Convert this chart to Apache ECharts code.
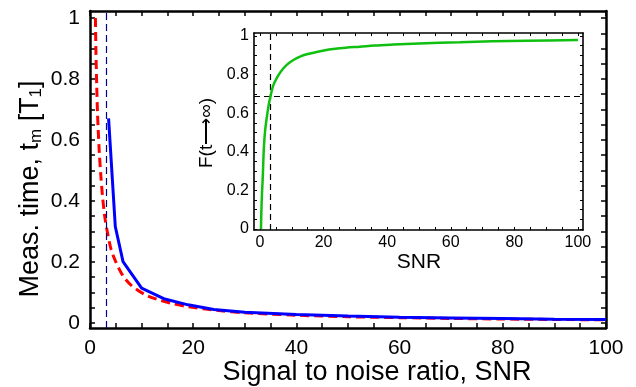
<!DOCTYPE html>
<html>
<head>
<meta charset="utf-8">
<script src="https://cdn.jsdelivr.net/npm/echarts@6/dist/echarts.min.js"></script>
<style>
html,body{margin:0;padding:0;background:#fff;}
#c{width:636px;height:387px;}
</style>
</head>
<body>
<div id="c"></div>
<script>
// ---- data ----
const snrRed = [1.05, 1.15, 1.3, 1.45, 1.6, 1.8, 2.07, 2.4, 2.85, 3.4, 4.1, 5, 6, 6.7, 8, 10.6, 13, 15.8, 19, 25, 30, 40, 50, 60, 70, 80, 90, 100];
const tRed   = [1.0, 0.89, 0.78, 0.69, 0.63, 0.56, 0.49, 0.42, 0.35, 0.295, 0.24, 0.2, 0.165, 0.147, 0.123, 0.093, 0.077, 0.064, 0.053, 0.04, 0.033, 0.025, 0.02, 0.017, 0.0143, 0.0125, 0.011, 0.01];

const snrBlue = [3.6, 4.9, 6.4, 10, 14.5, 19, 24, 30, 40, 50, 60, 70, 80, 90, 100];
const tBlue   = [0.671, 0.316, 0.201, 0.114, 0.078, 0.059, 0.044, 0.035, 0.027, 0.022, 0.018, 0.016, 0.014, 0.012, 0.011];

const snrGreen = [0.3, 0.4, 0.6, 0.85, 1.05, 1.26, 1.6, 2.1, 2.7, 3.4, 4.2, 5.2, 6.5, 8.4, 10.5, 12.6, 15, 17.8, 20.5, 23, 27, 31.4, 36, 41.9, 50, 62.9, 73, 83.9, 100];
const fGreen   = [0.0, 0.08, 0.18, 0.264, 0.36, 0.437, 0.51, 0.575, 0.64, 0.696, 0.745, 0.78, 0.815, 0.85, 0.875, 0.893, 0.906, 0.917, 0.926, 0.932, 0.939, 0.944, 0.95, 0.955, 0.961, 0.967, 0.972, 0.975, 0.979];

const snrThreshold = 3.2;
const fThreshold = 0.695;

const mainXLabels = [0, 20, 40, 60, 80, 100];
const mainYLabels = [0, 0.2, 0.4, 0.6, 0.8, 1];
const insetXLabels = [0, 20, 40, 60, 80, 100];
const insetYLabels = [0, 0.2, 0.4, 0.6, 0.8, 1];

// tick positions (every 5 SNR / every 0.05 in y)
const xTicks = []; for (let i = 0; i <= 20; i++) xTicks.push(i * 5);
const yTicks = []; for (let i = 0; i <= 20; i++) yTicks.push(+(i * 0.05).toFixed(2));

const FONT = '"Liberation Sans", Arial, Helvetica, sans-serif';

function pairs(xs, ys) { return xs.map((x, i) => [x, ys[i]]); }

function axisCommon(opts) {
  return Object.assign({
    type: 'value',
    splitLine: { show: false },
    axisLine: { show: true, onZero: false, lineStyle: { color: '#000', width: opts.lineWidth } },
    axisTick: { show: true, inside: true, length: opts.tickLen, customValues: opts.ticks,
                lineStyle: { color: '#000', width: opts.tickWidth } },
    axisLabel: opts.labels ? { show: true, customValues: opts.labels, fontSize: opts.fontSize,
                fontFamily: FONT, color: '#000', margin: opts.margin } : { show: false }
  }, opts.extra);
}

const chart = echarts.init(document.getElementById('c'), null, { renderer: 'canvas' });

const option = {
  animation: false,
  backgroundColor: '#fff',
  grid: [
    { left: 90, right: 30, top: 11, bottom: 59, show: false },
    { left: 254, right: 53, top: 33, bottom: 157, show: true, backgroundColor: '#fff', borderWidth: 0, z: 5 }
  ],
  xAxis: [
    axisCommon({ lineWidth: 2.5, tickLen: 5, tickWidth: 1.5, ticks: xTicks, labels: mainXLabels, fontSize: 21, margin: 10,
      extra: { gridIndex: 0, min: 0, max: 100, position: 'bottom' } }),
    axisCommon({ lineWidth: 2.5, tickLen: 5, tickWidth: 1.5, ticks: xTicks, labels: null,
      extra: { gridIndex: 0, min: 0, max: 100, position: 'top' } }),
    axisCommon({ lineWidth: 1.6, tickLen: 3, tickWidth: 1, ticks: xTicks, labels: insetXLabels, fontSize: 16, margin: 5,
      extra: { gridIndex: 1, min: -1.9, max: 101.6, position: 'bottom', z: 6 } }),
    axisCommon({ lineWidth: 1.6, tickLen: 3, tickWidth: 1, ticks: xTicks, labels: null,
      extra: { gridIndex: 1, min: -1.9, max: 101.6, position: 'top', z: 6 } })
  ],
  yAxis: [
    axisCommon({ lineWidth: 2.5, tickLen: 5, tickWidth: 1.5, ticks: yTicks, labels: mainYLabels, fontSize: 21, margin: 10,
      extra: { gridIndex: 0, min: -0.017, max: 1.023, position: 'left' } }),
    axisCommon({ lineWidth: 2.5, tickLen: 5, tickWidth: 1.5, ticks: yTicks, labels: null,
      extra: { gridIndex: 0, min: -0.017, max: 1.023, position: 'right' } }),
    axisCommon({ lineWidth: 1.6, tickLen: 3, tickWidth: 1, ticks: yTicks, labels: insetYLabels, fontSize: 16, margin: 5,
      extra: { gridIndex: 1, min: -0.005, max: 1.015, position: 'left', z: 6 } }),
    axisCommon({ lineWidth: 1.6, tickLen: 3, tickWidth: 1, ticks: yTicks, labels: null,
      extra: { gridIndex: 1, min: -0.005, max: 1.015, position: 'right', z: 6 } })
  ],
  series: [
    {
      type: 'line', xAxisIndex: 0, yAxisIndex: 0, data: pairs(snrRed, tRed),
      smooth: 0.3, showSymbol: false, silent: true,
      lineStyle: { color: '#ff0000', width: 3, type: [9, 5] }, z: 3
    },
    {
      type: 'line', xAxisIndex: 0, yAxisIndex: 0, data: pairs(snrBlue, tBlue),
      smooth: false, showSymbol: false, silent: true,
      lineStyle: { color: '#0000ff', width: 3 }, z: 4,
      markLine: {
        silent: true, symbol: 'none', label: { show: false },
        lineStyle: { color: '#00008b', width: 1.2, type: [7, 4] },
        data: [{ xAxis: snrThreshold }]
      }
    },
    {
      type: 'line', xAxisIndex: 2, yAxisIndex: 2, data: pairs(snrGreen, fGreen),
      smooth: 0.3, showSymbol: false, silent: true,
      lineStyle: { color: '#10c010', width: 2.5 }, z: 7,
      markLine: {
        silent: true, symbol: 'none', label: { show: false },
        lineStyle: { color: '#000', width: 1.2, type: [6, 4] },
        data: [{ xAxis: snrThreshold }, { yAxis: fThreshold }]
      }
    }
  ],
  graphic: [
    {
      type: 'text', x: 377, y: 373, z: 10,
      style: { text: 'Signal to noise ratio, SNR', fontSize: 27, fontFamily: FONT, fill: '#000',
               align: 'center', verticalAlign: 'middle' }
    },
    {
      type: 'text', x: 31, y: 189, rotation: Math.PI / 2, z: 10,
      style: { text: 'Meas. time, t{sub|m} [T{sub|1}]', fontSize: 27, fontFamily: FONT, fill: '#000',
               align: 'center', verticalAlign: 'middle',
               rich: { sub: { fontSize: 17, fontFamily: FONT, fill: '#000', verticalAlign: 'bottom', padding: [10, 0, 0, 0] } } }
    },
    {
      type: 'text', x: 419, y: 262, z: 10,
      style: { text: 'SNR', fontSize: 21, fontFamily: FONT, fill: '#000', align: 'center', verticalAlign: 'middle' }
    },
    {
      type: 'text', x: 207, y: 133, rotation: Math.PI / 2, z: 10,
      style: { text: 'F(t\u27F6\u221E)', fontSize: 19, fontFamily: FONT, fill: '#000', align: 'center', verticalAlign: 'middle' }
    }
  ]
};
chart.setOption(option);
</script>
</body>
</html>
